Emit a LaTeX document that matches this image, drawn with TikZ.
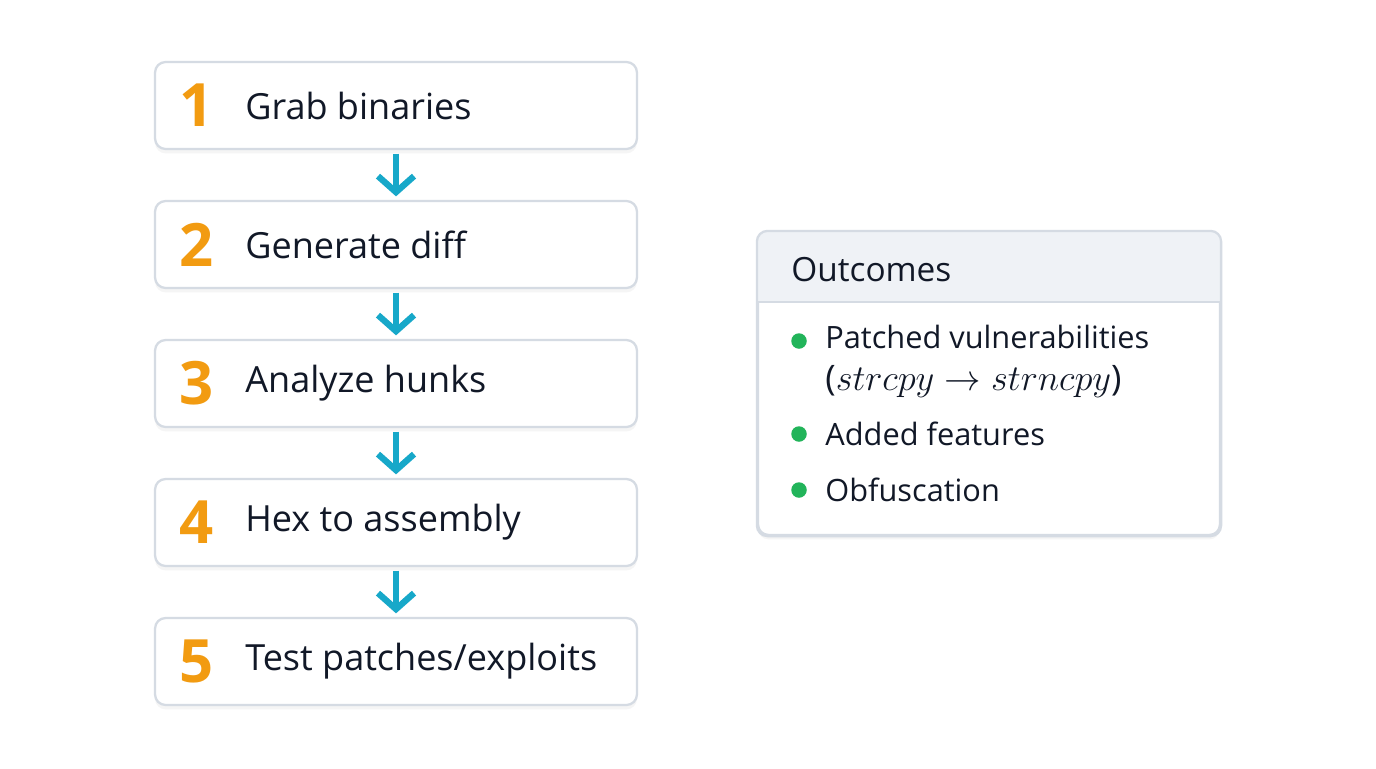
\documentclass[tikz,border=0pt]{standalone}
\usepackage{fontspec}
\setmainfont{Open Sans}
\usetikzlibrary{arrows.meta,shadows}
\definecolor{numorange}{HTML}{F29B11}
\definecolor{inkdark}{HTML}{111827}
\definecolor{boxline}{HTML}{D5DBE3}
\definecolor{headfill}{HTML}{EFF2F6}
\definecolor{flowcyan}{HTML}{17A8C9}
\definecolor{dotgreen}{HTML}{22B45A}
\tikzset{
  stepbox/.style={draw=boxline, line width=1.3pt, fill=white, rounded corners=6pt,
    minimum width=9.64cm, minimum height=1.74cm,
    drop shadow={opacity=0.08, shadow xshift=0pt, shadow yshift=-2.5pt}},
  stepnum/.style={text=numorange, font=\fontsize{34}{36}\selectfont\bfseries, inner sep=0pt},
  steplabel/.style={text=inkdark, font=\fontsize{20.5}{24}\selectfont, anchor=west, inner sep=0pt},
  flow/.style={draw=flowcyan, line width=3.4pt, shorten <=2pt, shorten >=2pt,
    -{Straight Barb[length=3.2mm, width=7.2mm, line width=3.6pt]}},
  itemdot/.style={circle, fill=dotgreen, minimum size=0.31cm, inner sep=0pt},
  itemtext/.style={text=inkdark, font=\fontsize{17.5}{22}\selectfont, anchor=west, inner sep=0pt, align=left}
}
\begin{document}
\begin{tikzpicture}[x=0.02cm, y=-0.02cm]
  \useasboundingbox[fill=white] (0,0) rectangle (1376,768);
  % steps
  \node[stepbox] (box1) at (396,105.5) {};
  \node[stepbox] (box2) at (396,244.5) {};
  \node[stepbox] (box3) at (396,383.5) {};
  \node[stepbox] (box4) at (396,522.5) {};
  \node[stepbox] (box5) at (396,661.5) {};
  \node[stepnum] (num1) at (197,105.5) {1};
  \node[stepnum] (num2) at (197,244.5) {2};
  \node[stepnum] (num3) at (197,383.5) {3};
  \node[stepnum] (num4) at (197,522.5) {4};
  \node[stepnum] (num5) at (197,661.5) {5};
  \node[steplabel] (lab1) at (245,105.5) {Grab binaries};
  \node[steplabel] (lab2) at (245,244.5) {Generate diff};
  \node[steplabel] (lab3) at (245,383.5) {Analyze hunks};
  \node[steplabel] (lab4) at (245,522.5) {Hex to assembly};
  \node[steplabel] (lab5) at (245,661.5) {Test patches/exploits};
  \begin{scope}[flow]
    \draw[flow] (box1) -- (box2);
    \draw[flow] (box2) -- (box3);
    \draw[flow] (box3) -- (box4);
    \draw[flow] (box4) -- (box5);
  \end{scope}
  % outcomes
  \node[stepbox, minimum width=9.24cm, minimum height=6.06cm] (outbox) at (989,383.5) {};
  \begin{scope}
    \clip[rounded corners=6pt] (outbox.south west) rectangle (outbox.north east);
    \fill[headfill] (758,232) rectangle (1220,302);
  \end{scope}
  \draw[boxline, line width=1.3pt, rounded corners=6pt] (outbox.south west) rectangle (outbox.north east);
  \draw[boxline, line width=1pt] (outbox.west |- 0,302) -- (outbox.east |- 0,302);
  \node[text=inkdark, font=\fontsize{19}{24}\selectfont, anchor=west, inner sep=0pt] (outhead) at (791,270) {Outcomes};
  \node[itemdot] (dot1) at (799,341) {};
  \node[itemdot] (dot2) at (799,434) {};
  \node[itemdot] (dot3) at (799,490) {};
  \node[itemtext, anchor=north west] (item1) at (825,325) {Patched vulnerabilities\\[2pt]{\fontsize{20}{22}\selectfont($strcpy \to strncpy$)}};
  \node[itemtext] (item2) at (825,434) {Added features};
  \node[itemtext] (item3) at (825,490) {Obfuscation};
\end{tikzpicture}
\end{document}
